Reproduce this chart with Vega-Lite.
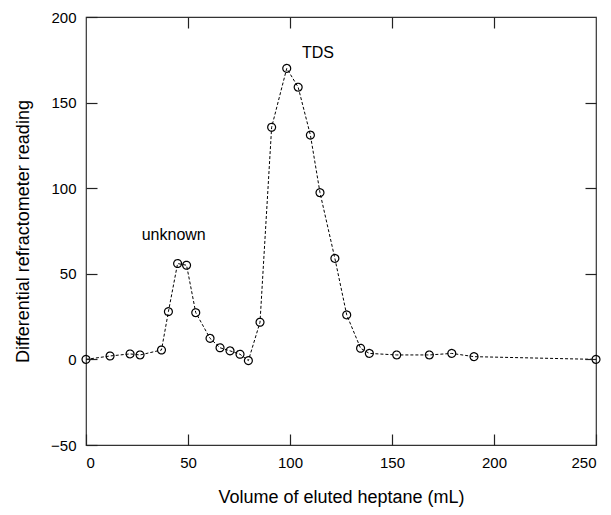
{
  "$schema": "https://vega.github.io/schema/vega-lite/v6.json",
  "width": 510,
  "height": 428,
  "autosize": {"type": "none"},
  "padding": {"left": 86, "top": 17, "right": 15, "bottom": 70},
  "background": "white",
  "config": {
    "view": {"stroke": "#333333", "strokeWidth": 1.2},
    "font": "Liberation Sans",
    "axis": {
      "domain": false,
      "grid": false,
      "labelColor": "black",
      "labelFontSize": 15,
      "labelFont": "Liberation Sans",
      "titleFont": "Liberation Sans",
      "titleFontSize": 18,
      "titleFontWeight": "normal",
      "titleColor": "black"
    }
  },
  "datasets": {
    "pts": [
      {"v": 0, "r": 0},
      {"v": 11.8, "r": 2},
      {"v": 21.6, "r": 3.2},
      {"v": 26.5, "r": 2.6},
      {"v": 37, "r": 5.5},
      {"v": 40.4, "r": 27.9},
      {"v": 44.9, "r": 56},
      {"v": 49.3, "r": 55},
      {"v": 53.8, "r": 27.3},
      {"v": 60.8, "r": 12.3},
      {"v": 65.7, "r": 6.8},
      {"v": 70.6, "r": 5},
      {"v": 75.5, "r": 3},
      {"v": 79.6, "r": -0.7},
      {"v": 85.3, "r": 21.7},
      {"v": 91, "r": 135.6},
      {"v": 98.4, "r": 170},
      {"v": 104, "r": 159},
      {"v": 110, "r": 131},
      {"v": 114.7, "r": 97.4},
      {"v": 122, "r": 59},
      {"v": 127.8, "r": 26},
      {"v": 134.6, "r": 6.5},
      {"v": 138.9, "r": 3.5},
      {"v": 152.3, "r": 2.6},
      {"v": 168.3, "r": 2.6},
      {"v": 179.3, "r": 3.5},
      {"v": 190.2, "r": 1.6},
      {"v": 250, "r": 0}
    ],
    "labels": [
      {"v": 43, "r": 72.7, "t": "unknown"},
      {"v": 113.7, "r": 179, "t": "TDS"}
    ]
  },
  "layer": [
    {
      "data": {"name": "pts"},
      "mark": {"type": "line", "color": "black", "strokeWidth": 1, "strokeDash": [3, 2], "clip": false,
               "point": {"shape": "circle", "filled": false, "fill": null, "stroke": "black", "size": 62, "strokeWidth": 1.2, "strokeDash": [1, 0]}},
      "encoding": {
        "x": {"field": "v", "type": "quantitative", "scale": {"domain": [0, 250], "nice": false},
              "axis": {"orient": "bottom", "zindex": 1, "values": [0, 50, 100, 150, 200, 250], "title": "Volume of eluted heptane (mL)", "labelPadding": 10, "titlePadding": 18, "offset": -11, "tickSize": 11, "tickColor": "#222222", "tickWidth": 1.2}},
        "y": {"field": "r", "type": "quantitative", "scale": {"domain": [-50, 200], "nice": false},
              "axis": {"orient": "left", "zindex": 1, "values": [-50, 0, 50, 100, 150, 200], "title": "Differential refractometer reading", "labelPadding": 10, "titlePadding": 18, "offset": -11, "tickSize": 11, "tickColor": "#222222", "tickWidth": 1.2}}
      }
    },
    {
      "data": {"name": "labels"},
      "mark": {"type": "text", "fontSize": 16, "color": "black", "font": "Liberation Sans"},
      "encoding": {
        "x": {"field": "v", "type": "quantitative", "axis": {"orient": "top", "zindex": 1, "values": [50, 100, 150, 200], "labels": false, "title": null, "offset": -11, "tickSize": 11, "tickColor": "#222222", "tickWidth": 1.2}},
        "y": {"field": "r", "type": "quantitative", "axis": {"orient": "right", "zindex": 1, "values": [0, 50, 100, 150], "labels": false, "title": null, "offset": -11, "tickSize": 11, "tickColor": "#222222", "tickWidth": 1.2}},
        "text": {"field": "t"}
      }
    }
  ],
  "resolve": {"axis": {"x": "independent", "y": "independent"}}
}
